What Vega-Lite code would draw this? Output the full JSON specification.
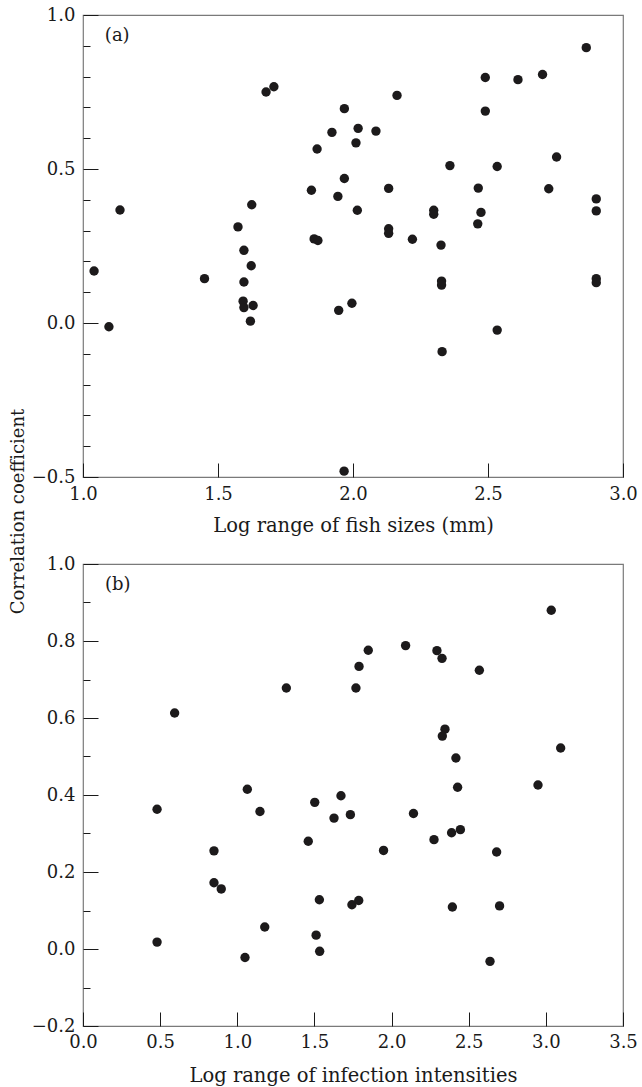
{
  "$schema": "https://vega.github.io/schema/vega-lite/v6.json",
  "autosize": {"type": "pad"},
  "padding": {"left": 8, "top": 5, "right": 0, "bottom": 0},
  "background": "white",
  "config": {
    "font": "DejaVu Serif",
    "view": {"stroke": "#7a7a7a", "strokeWidth": 1.2},
    "axis": {
      "domain": false, "grid": false,
      "labelFont": "DejaVu Serif", "labelFontSize": 18, "labelColor": "#1a1a1a",
      "titleFont": "DejaVu Serif", "titleFontSize": 18, "titleFontWeight": "normal", "titleColor": "#1a1a1a",
      "tickColor": "#1a1a1a", "tickWidth": 1, "labelFlush": false, "labelOverlap": false
    }
  },
  "datasets": {
    "fish": [
      {"range": 1.041, "r": 0.169}, {"range": 1.137, "r": 0.367}, {"range": 1.096, "r": -0.012},
      {"range": 1.45, "r": 0.144}, {"range": 1.574, "r": 0.312}, {"range": 1.596, "r": 0.236},
      {"range": 1.623, "r": 0.186}, {"range": 1.596, "r": 0.133}, {"range": 1.593, "r": 0.071},
      {"range": 1.596, "r": 0.05}, {"range": 1.63, "r": 0.057}, {"range": 1.62, "r": 0.006},
      {"range": 1.625, "r": 0.384}, {"range": 1.678, "r": 0.75}, {"range": 1.707, "r": 0.767},
      {"range": 1.867, "r": 0.565}, {"range": 1.846, "r": 0.431}, {"range": 1.856, "r": 0.273},
      {"range": 1.87, "r": 0.268}, {"range": 2.864, "r": 0.894}, {"range": 2.49, "r": 0.797},
      {"range": 2.611, "r": 0.79}, {"range": 2.702, "r": 0.807}, {"range": 2.163, "r": 0.739},
      {"range": 1.968, "r": 0.696}, {"range": 2.49, "r": 0.688}, {"range": 1.922, "r": 0.619},
      {"range": 2.019, "r": 0.632}, {"range": 2.085, "r": 0.623}, {"range": 2.011, "r": 0.585},
      {"range": 2.359, "r": 0.511}, {"range": 2.534, "r": 0.508}, {"range": 2.754, "r": 0.539},
      {"range": 1.968, "r": 0.469}, {"range": 1.944, "r": 0.411}, {"range": 2.132, "r": 0.437},
      {"range": 2.464, "r": 0.438}, {"range": 2.725, "r": 0.436}, {"range": 2.016, "r": 0.366},
      {"range": 2.299, "r": 0.366}, {"range": 2.299, "r": 0.353}, {"range": 2.474, "r": 0.359},
      {"range": 2.462, "r": 0.322}, {"range": 2.901, "r": 0.403}, {"range": 2.901, "r": 0.364},
      {"range": 2.132, "r": 0.306}, {"range": 2.132, "r": 0.291}, {"range": 2.22, "r": 0.272},
      {"range": 2.326, "r": 0.253}, {"range": 2.328, "r": 0.136}, {"range": 2.328, "r": 0.123},
      {"range": 2.901, "r": 0.144}, {"range": 2.901, "r": 0.131}, {"range": 1.947, "r": 0.041},
      {"range": 1.996, "r": 0.064}, {"range": 2.534, "r": -0.023}, {"range": 2.33, "r": -0.093},
      {"range": 1.967, "r": -0.481}
    ],
    "infection": [
      {"range": 0.594, "r": 0.613}, {"range": 1.318, "r": 0.678}, {"range": 0.48, "r": 0.363},
      {"range": 1.065, "r": 0.415}, {"range": 1.147, "r": 0.357}, {"range": 1.502, "r": 0.381},
      {"range": 3.035, "r": 0.88}, {"range": 1.849, "r": 0.776}, {"range": 2.091, "r": 0.788},
      {"range": 2.294, "r": 0.775}, {"range": 2.327, "r": 0.755}, {"range": 1.789, "r": 0.734},
      {"range": 2.569, "r": 0.724}, {"range": 1.769, "r": 0.678}, {"range": 2.346, "r": 0.571},
      {"range": 2.329, "r": 0.553}, {"range": 3.096, "r": 0.522}, {"range": 2.417, "r": 0.496},
      {"range": 2.428, "r": 0.42}, {"range": 2.949, "r": 0.426}, {"range": 1.672, "r": 0.398},
      {"range": 1.627, "r": 0.34}, {"range": 1.733, "r": 0.349}, {"range": 2.142, "r": 0.352},
      {"range": 1.46, "r": 0.28}, {"range": 0.849, "r": 0.255}, {"range": 0.849, "r": 0.172},
      {"range": 0.896, "r": 0.156}, {"range": 1.532, "r": 0.128}, {"range": 1.178, "r": 0.057},
      {"range": 1.511, "r": 0.036}, {"range": 0.48, "r": 0.018}, {"range": 1.534, "r": -0.006},
      {"range": 1.05, "r": -0.022}, {"range": 2.275, "r": 0.284}, {"range": 2.389, "r": 0.302},
      {"range": 2.446, "r": 0.31}, {"range": 1.948, "r": 0.256}, {"range": 2.681, "r": 0.252},
      {"range": 1.743, "r": 0.115}, {"range": 1.787, "r": 0.126}, {"range": 2.394, "r": 0.109},
      {"range": 2.7, "r": 0.112}, {"range": 2.638, "r": -0.032}
    ],
    "labelA": [{"label": "(a)"}],
    "labelB": [{"label": "(b)"}]
  },
  "bounds": "flush",
  "spacing": 87,
  "vconcat": [
    {
      "width": 540, "height": 462,
      "resolve": {"axis": {"y": "independent"}},
      "layer": [
        {
          "data": {"name": "fish"},
          "mark": {"type": "point", "filled": true, "shape": "circle", "size": 88, "color": "#1c1a1b", "opacity": 1},
          "encoding": {
            "x": {
              "field": "range", "type": "quantitative",
              "scale": {"domain": [1, 3], "nice": false, "zero": false},
              "axis": {
                "values": [1, 1.5, 2, 2.5, 3], "format": ".1f", "tickSize": -14, "labelPadding": 22,
                "labelOverlap": false, "labelFlush": false,
                "title": "Log range of fish sizes (mm)", "titleFontSize": 19.5, "titleY": 48, "titleBaseline": "middle"
              }
            },
            "y": {
              "field": "r", "type": "quantitative",
              "scale": {"domain": [-0.5, 1], "nice": false, "zero": false},
              "axis": {
                "orient": "left",
                "values": [-0.5, 0, 0.5, 1],
                "format": ".1f",
                "labelOverlap": false, "labelFlush": false,
                "tickSize": -15,
                "labelPadding": 23,
                "title": "Correlation coefficient", "titleX": -65, "titleY": 496,
                "titleAngle": -90, "titleBaseline": "middle", "titleAlign": "center"
              }
            }
          }
        },
        {
          "data": {"name": "labelA"},
          "mark": {"type": "text", "align": "left", "baseline": "middle", "fontSize": 18, "font": "DejaVu Serif", "color": "#1a1a1a"},
          "encoding": {
            "x": {"datum": 1.081, "type": "quantitative"},
            "y": {
              "datum": 0.932, "type": "quantitative",
              "axis": {
                "orient": "left",
                "values": [-0.4, -0.3, -0.2, -0.1, 0.1, 0.2, 0.3, 0.4, 0.6, 0.7, 0.8, 0.9],
                "labels": false, "tickSize": -7, "title": null, "domain": false
              }
            },
            "text": {"field": "label"}
          }
        }
      ]
    },
    {
      "width": 540, "height": 462,
      "resolve": {"axis": {"y": "independent"}},
      "layer": [
        {
          "data": {"name": "infection"},
          "mark": {"type": "point", "filled": true, "shape": "circle", "size": 88, "color": "#1c1a1b", "opacity": 1},
          "encoding": {
            "x": {
              "field": "range", "type": "quantitative",
              "scale": {"domain": [0, 3.5], "nice": false, "zero": false},
              "axis": {
                "values": [0, 0.5, 1, 1.5, 2, 2.5, 3, 3.5], "format": ".1f", "tickSize": -14, "labelPadding": 21,
                "labelOverlap": false, "labelFlush": false,
                "title": "Log range of infection intensities", "titleFontSize": 19.5, "titleY": 49, "titleBaseline": "middle"
              }
            },
            "y": {
              "field": "r", "type": "quantitative",
              "scale": {"domain": [-0.2, 1], "nice": false, "zero": false},
              "axis": {
                "orient": "left",
                "values": [-0.2, 0, 0.2, 0.4, 0.6, 0.8, 1],
                "format": ".1f",
                "labelOverlap": false, "labelFlush": false,
                "tickSize": -15,
                "labelPadding": 23,
                "title": null
              }
            }
          }
        },
        {
          "data": {"name": "labelB"},
          "mark": {"type": "text", "align": "left", "baseline": "middle", "fontSize": 18, "font": "DejaVu Serif", "color": "#1a1a1a"},
          "encoding": {
            "x": {"datum": 0.143, "type": "quantitative"},
            "y": {
              "datum": 0.946, "type": "quantitative",
              "axis": {
                "orient": "left",
                "values": [-0.1, 0.1, 0.3, 0.5, 0.7, 0.9],
                "labels": false, "tickSize": -7, "title": null, "domain": false
              }
            },
            "text": {"field": "label"}
          }
        }
      ]
    }
  ]
}
